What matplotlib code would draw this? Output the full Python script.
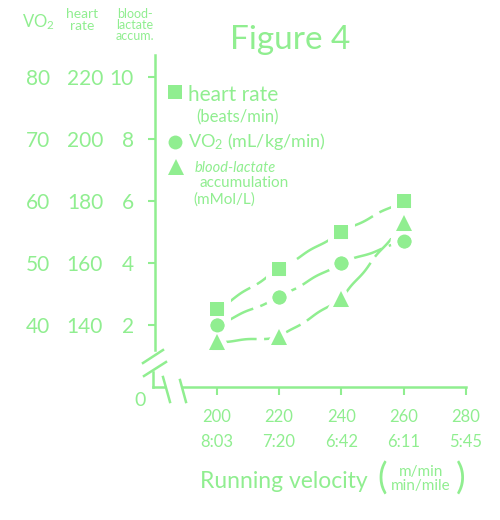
import matplotlib.pyplot as plt
from matplotlib.lines import Line2D

# running velocity (m/min) and pace (min/mile) on the x axis
velocity = [200, 220, 240, 260]
vel_ticks = [200, 220, 240, 260, 280]
pace_ticks = ['8:03', '7:20', '6:42', '6:11', '5:45']

# three series, each in its own unit
heart_rate = [145, 158, 170, 180]      # beats/min
vo2 = [40, 44.5, 50, 53.5]             # mL/kg/min
lactate = [1.45, 1.6, 2.85, 5.3]       # mMol/L

lactate_ticks = [2, 4, 6, 8, 10]
hr_ticks = [140, 160, 180, 200, 220]
vo2_ticks = [40, 50, 60, 70, 80]

green = '#90EE90'
plt.rcParams['font.family'] = ['Lato', 'DejaVu Sans']
plt.rcParams['mathtext.default'] = 'regular'


# the lactate scale is the main axis, the other two are mapped onto it
def hr_to_lac(h):
    return (h - 120) / 10.0


def lac_to_hr(v):
    return 120 + 10.0 * v


def vo2_to_lac(o):
    return (o - 30) / 5.0


def lac_to_vo2(v):
    return 30 + 5.0 * v


def px(x, y):
    return x / 500.0, 1 - y / 520.0


fig = plt.figure(figsize=(5, 5.2), dpi=100)
ax = fig.add_axes([0.309, 0.2558, 0.623, 0.638])
ax.set_xlim(180, 280)
ax.set_ylim(0, 10.7)

for s in ['top', 'right']:
    ax.spines[s].set_visible(False)
for s in ['left', 'bottom']:
    ax.spines[s].set_color(green)
    ax.spines[s].set_linewidth(1.8)
ax.spines['left'].set_bounds(1.2, 10.7)
ax.spines['bottom'].set_bounds(189, 280)

ax.set_yticks(lactate_ticks)
ax.set_yticklabels([str(t) for t in lactate_ticks])
ax.tick_params(axis='y', direction='out', length=5, width=1.5, pad=10,
               colors=green, labelsize=15)
ax.set_xticks(vel_ticks)
ax.set_xticklabels([f'{v}\n{p}' for v, p in zip(vel_ticks, pace_ticks)],
                   linespacing=1.7)
ax.tick_params(axis='x', direction='out', length=6, width=1.5, pad=10,
               colors=green, labelsize=12)

sec_hr = ax.secondary_yaxis(-0.165, functions=(lac_to_hr, hr_to_lac))
sec_hr.set_yticks(hr_ticks)
sec_vo2 = ax.secondary_yaxis(-0.335, functions=(lac_to_vo2, vo2_to_lac))
sec_vo2.set_yticks(vo2_ticks)
for sec in (sec_hr, sec_vo2):
    sec.spines['left'].set_visible(False)
    sec.tick_params(length=0, pad=0, colors=green, labelsize=15)

# series: line underneath, markers with white halo to leave a gap
series = [
    ([hr_to_lac(h) for h in heart_rate], 's', 10),
    ([vo2_to_lac(o) for o in vo2], 'o', 10),
    (lactate, '^', 11),
]
with plt.rc_context({'path.sketch': (0.6, 40, 1)}):
    for ys, m, ms in series:
        ax.plot(velocity, ys, color=green, lw=1.8, zorder=2,
                dashes=(16, 3), clip_on=False)
        ax.plot(velocity, ys, m, color=green, ms=ms + 5, mec='white',
                mew=5, zorder=3, clip_on=False)
        ax.plot(velocity, ys, m, color=green, ms=ms, mew=0, zorder=4,
                clip_on=False)

# axis breaks
for (x0, y0), (x1, y1) in [((143, 363), (163, 350)), ((144, 376), (166, 362)),
                           ((153, 372), (153, 387)), ((153, 387), (164, 387)),
                           ((163, 377), (170, 402)), ((180, 380), (186, 402))]:
    a, b = px(x0, y0), px(x1, y1)
    fig.add_artist(Line2D([a[0], b[0]], [a[1], b[1]], color=green, lw=1.8))
fig.text(*px(140, 400), '0', color=green, fontsize=14, ha='center', va='center')

# column headers
fig.text(*px(38, 22), 'VO$_2$', color=green, fontsize=12, ha='center', va='center')
fig.text(*px(82, 20), 'heart\nrate', color=green, fontsize=10, ha='center',
         va='center', linespacing=0.9)
fig.text(*px(135, 25), 'blood-\nlactate\naccum.', color=green, fontsize=9,
         ha='center', va='center', linespacing=0.9)

fig.text(*px(290, 40), 'Figure 4', color=green, fontsize=24, ha='center', va='center')

# legend
for (x, y), m, ms in [((175, 92), 's', 10), ((175, 142), 'o', 10), ((176, 167), '^', 11)]:
    fig.add_artist(Line2D([px(x, y)[0]], [px(x, y)[1]], marker=m, ms=ms,
                          color=green, mew=0))
fig.text(*px(188, 95), 'heart rate', color=green, fontsize=15, va='center')
fig.text(*px(196, 117), '(beats/min)', color=green, fontsize=12, va='center')
fig.text(*px(188, 142), 'VO$_2$ (mL/kg/min)', color=green, fontsize=13, va='center')
fig.text(*px(195, 168), 'blood-lactate', color=green, fontsize=10.5,
         style='italic', va='center')
fig.text(*px(199, 183), 'accumulation', color=green, fontsize=11, va='center')
fig.text(*px(193, 200), '(mMol/L)', color=green, fontsize=11, va='center')

# x axis title
fig.text(*px(284, 482), 'Running velocity', color=green, fontsize=16.5,
         ha='center', va='center')
fig.text(*px(421, 479), 'm/min\nmin/mile', color=green, fontsize=11,
         ha='center', va='center', linespacing=0.95)
fig.text(*px(382, 479), '(', color=green, fontsize=26, ha='center', va='center')
fig.text(*px(461, 479), ')', color=green, fontsize=26, ha='center', va='center')

fig.savefig('out.png', dpi=100, facecolor='white')
